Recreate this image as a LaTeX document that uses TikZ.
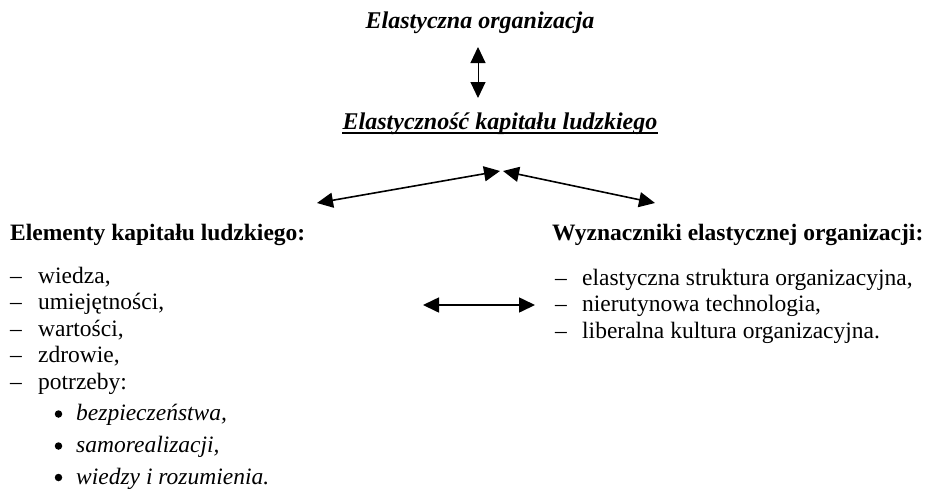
\documentclass[tikz,border=0pt]{standalone}
\usepackage{fontspec}
\setmainfont{Liberation Serif}
\usetikzlibrary{arrows.meta}
\tikzset{
  txt/.style={anchor=base west, inner sep=0pt, font=\fontsize{23.5}{26}\selectfont},
  btxt/.style={txt, font=\fontsize{23.5}{26}\selectfont\bfseries},
  itxt/.style={txt, font=\fontsize{23.5}{26}\selectfont\itshape},
  ctxt/.style={anchor=base, inner sep=0pt, font=\fontsize{24}{26}\selectfont\bfseries\itshape},
  arr/.style={line width=1.6pt, {Triangle[length=16pt,width=15pt]}-{Triangle[length=16pt,width=15pt]}},
  bul/.style={circle, fill, inner sep=0pt, minimum size=7.5pt},
}
\begin{document}
\begin{tikzpicture}[x=1pt,y=-1pt]
\useasboundingbox[fill=white] (0,0) rectangle (937,488);
% top
\node[ctxt] (org) at (480,28) {Elastyczna organizacja};
\node[ctxt] (ekl) at (500,129) {Elastyczność kapitału ludzkiego};
\draw[line width=2pt] ([yshift=-4pt]ekl.base west) -- ([yshift=-4pt]ekl.base east);
\coordinate (vt) at (478,47);
\coordinate (vb) at (478,98);
\draw[arr, line width=1pt] (vt) -- (vb);
% diagonal arrows
\coordinate (dl) at (317,203);
\coordinate (dlm) at (500,171);
\coordinate (drm) at (503,171);
\coordinate (dr) at (655,203);
\draw[arr] (dl) -- (dlm);
\draw[arr] (drm) -- (dr);
% left list
\node[btxt] (lh) at (10,240) {Elementy kapitału ludzkiego:};
\node[txt] (ld1) at (10,283) {–};
\node[txt] (l1) at (38,283) {wiedza,};
\node[txt] (ld2) at (10,309.5) {–};
\node[txt] (l2) at (38,309.5) {umiejętności,};
\node[txt] (ld3) at (10,336) {–};
\node[txt] (l3) at (38,336) {wartości,};
\node[txt] (ld4) at (10,362.5) {–};
\node[txt] (l4) at (38,362.5) {zdrowie,};
\node[txt] (ld5) at (10,389) {–};
\node[txt] (l5) at (38,389) {potrzeby:};
\node[bul] (bb1) at (58.5,414) {};
\node[itxt] (b1) at (76,420.5) {bezpieczeństwa,};
\node[bul] (bb2) at (58.5,446) {};
\node[itxt] (b2) at (76,452.5) {samorealizacji,};
\node[bul] (bb3) at (58.5,477.5) {};
\node[itxt] (b3) at (76,484) {wiedzy i rozumienia.};
% middle arrow
\coordinate (ml) at (423,305);
\coordinate (mr) at (535,305);
\draw[arr] (ml) -- (mr);
% right list
\node[btxt] (rh) at (552,240) {Wyznaczniki elastycznej organizacji:};
\node[txt] (rd1) at (555,285) {–};
\node[txt] (r1) at (582,285) {elastyczna struktura organizacyjna,};
\node[txt] (rd2) at (555,311.5) {–};
\node[txt] (r2) at (582,311.5) {nierutynowa technologia,};
\node[txt] (rd3) at (555,338) {–};
\node[txt] (r3) at (582,338) {liberalna kultura organizacyjna.};
\end{tikzpicture}
\end{document}
